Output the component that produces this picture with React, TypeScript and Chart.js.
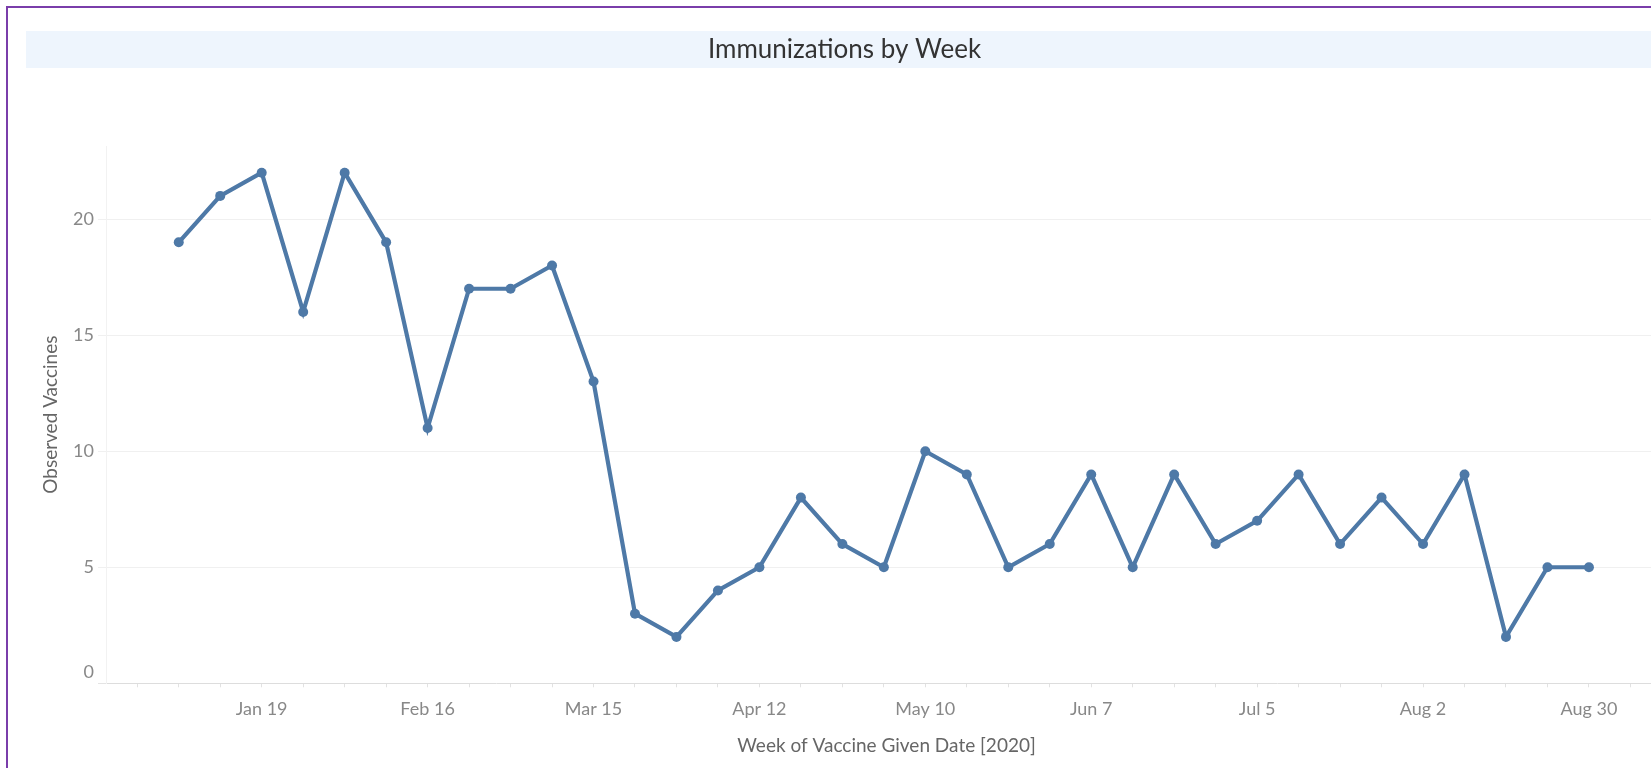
import React, { useEffect, useRef } from 'react';
import { Chart, registerables } from 'chart.js';

Chart.register(...registerables);

const weeks = [
  'Jan 5', 'Jan 12', 'Jan 19', 'Jan 26', 'Feb 2', 'Feb 9', 'Feb 16', 'Feb 23',
  'Mar 1', 'Mar 8', 'Mar 15', 'Mar 22', 'Mar 29', 'Apr 5', 'Apr 12', 'Apr 19',
  'Apr 26', 'May 3', 'May 10', 'May 17', 'May 24', 'May 31', 'Jun 7', 'Jun 14',
  'Jun 21', 'Jun 28', 'Jul 5', 'Jul 12', 'Jul 19', 'Jul 26', 'Aug 2', 'Aug 9',
  'Aug 16', 'Aug 23', 'Aug 30',
];

const observedVaccines = [
  19, 21, 22, 16, 22, 19, 11, 17, 17, 18, 13, 3, 2, 4, 5, 8, 6, 5, 10, 9, 5, 6,
  9, 5, 9, 6, 7, 9, 6, 8, 6, 9, 2, 5, 5,
];

const xTickLabels = ['Jan 19', 'Feb 16', 'Mar 15', 'Apr 12', 'May 10', 'Jun 7', 'Jul 5', 'Aug 2', 'Aug 30'];
const yTicks = [0, 5, 10, 15, 20];

const FONT = 'Lato, "Noto Sans", sans-serif';

const bandPlugin = {
  id: 'titleBand',
  beforeDraw(chart: any) {
    const { ctx, width } = chart;
    ctx.save();
    ctx.fillStyle = '#EEF5FD';
    ctx.fillRect(26, 31, width - 26, 37);
    ctx.restore();
  },
};

export default function App() {
  const canvasRef = useRef<HTMLCanvasElement | null>(null);

  useEffect(() => {
    document.body.style.margin = '0';
    document.body.style.overflow = 'hidden';
    const canvas = canvasRef.current;
    if (!canvas) return;
    const chart = new Chart(canvas, {
      type: 'line',
      data: {
        datasets: [
          {
            label: 'Observed Vaccines',
            data: observedVaccines.map((v, i) => ({ x: i, y: v })),
            borderColor: '#4E79A7',
            backgroundColor: '#4E79A7',
            borderWidth: 4.2,
            pointRadius: 5,
            pointBorderWidth: 0,
            pointBackgroundColor: '#4E79A7',
            tension: 0,
            fill: false,
          },
        ],
      },
      options: {
        animation: false,
        responsive: true,
        maintainAspectRatio: false,
        layout: { padding: { left: 17, right: 0, top: 0, bottom: 0 } },
        plugins: {
          legend: { display: false },
          tooltip: { enabled: false },
          title: {
            display: true,
            text: 'Immunizations by Week',
            color: '#333333',
            font: { family: FONT, size: 26, weight: 'normal', lineHeight: 1.2 },
            padding: { top: 33.9, bottom: 80.9 },
          },
        },
        scales: {
          x: {
            type: 'linear',
            min: -1.754,
            max: 35.882,
            afterFit(scale: any) {
              scale.height = 84.7;
            },
            ticks: {
              stepSize: 1,
              autoSkip: false,
              maxRotation: 0,
              includeBounds: false,
              padding: 11,
              color: '#888888',
              font: { family: FONT, size: 18 },
              callback: (value: any) => {
                const lbl = weeks[value as number];
                return lbl && xTickLabels.includes(lbl) ? lbl : '';
              },
            },
            grid: {
              drawOnChartArea: false,
              drawTicks: true,
              tickLength: 4,
              color: '#e2e2e2',
            },
            border: { display: true, color: '#dddddd', dash: [2, 2], width: 1 },
            title: {
              display: true,
              text: 'Week of Vaccine Given Date [2020]',
              color: '#666666',
              font: { family: FONT, size: 19 },
              padding: { top: 10.5, bottom: 10.5 },
            },
          },
          y: {
            type: 'linear',
            min: 0,
            max: 23.15,
            afterFit(scale: any) {
              scale.width = 89;
            },
            afterBuildTicks(scale: any) {
              scale.ticks = yTicks.map((v) => ({ value: v }));
            },
            ticks: {
              stepSize: 5,
              includeBounds: false,
              padding: 4,
              color: '#888888',
              font: { family: FONT, size: 18 },
              callback: (value: any) => (value === 0 ? ['0', ''] : String(value)),
            },
            grid: {
              drawTicks: true,
              tickLength: 8,
              color: (ctx: any) => (ctx.tick && ctx.tick.value === 0 ? 'rgba(0,0,0,0)' : '#f0f0f0'),
              tickColor: (ctx: any) => (ctx.tick && ctx.tick.value === 0 ? '#e4e4e4' : '#f0f0f0'),
            },
            border: { display: true, color: '#f2f2f2', width: 1 },
            title: {
              display: true,
              text: 'Observed Vaccines',
              color: '#666666',
              font: { family: FONT, size: 19 },
              padding: { top: 22, bottom: 0 },
            },
          },
        },
      },
      plugins: [bandPlugin],
    });
    return () => chart.destroy();
  }, []);

  return (
    <div style={{ position: 'relative', width: 1651, height: 768, overflow: 'hidden', background: '#ffffff' }}>
      <div style={{ position: 'absolute', left: 0, top: 0, width: 1672, height: 768 }}>
        <canvas ref={canvasRef} style={{ display: 'block' }} />
      </div>
      <div
        style={{
          position: 'absolute',
          left: 6,
          top: 6,
          right: 0,
          bottom: 0,
          borderLeft: '2px solid #7A3DAA',
          borderTop: '2px solid #7A3DAA',
          pointerEvents: 'none',
        }}
      />
    </div>
  );
}
